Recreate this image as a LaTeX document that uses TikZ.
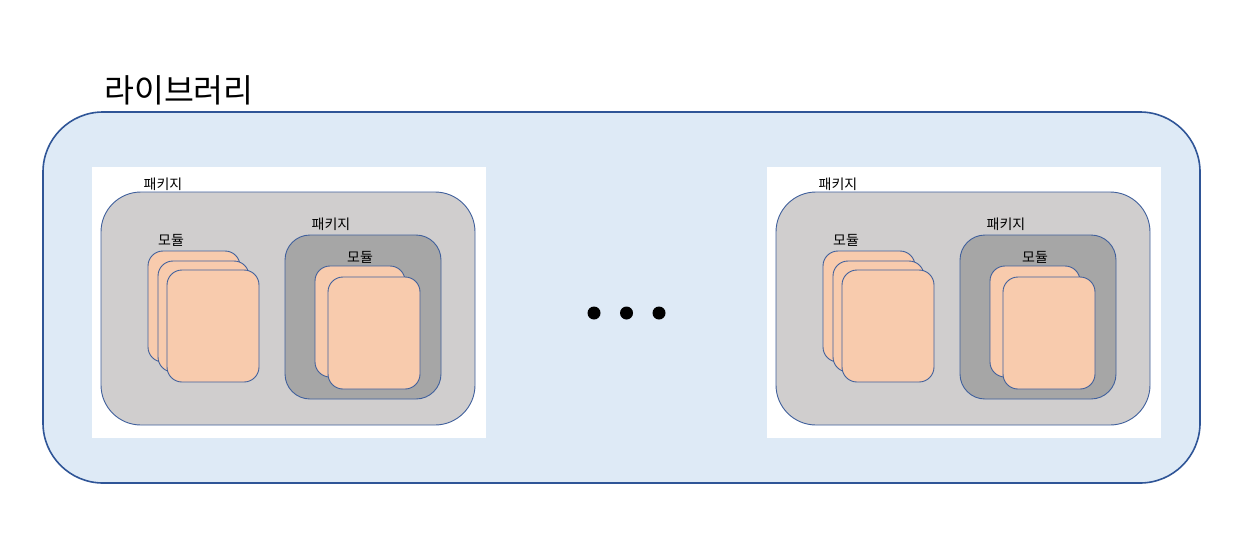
\documentclass[tikz,border=0pt]{standalone}
\usepackage{fontspec}
\newfontfamily\kr{Noto Sans CJK KR}
\usetikzlibrary{shapes}
\definecolor{libfill}{HTML}{DEEAF6}
\definecolor{libline}{HTML}{2F5597}
\definecolor{pkgfill}{HTML}{D0CECE}
\definecolor{subfill}{HTML}{A6A6A6}
\definecolor{modfill}{HTML}{F8CBAD}
\definecolor{boxline}{HTML}{40609C}

\begin{document}
\begin{tikzpicture}
[x=1pt,y=-1pt]
\tikzstyle{every node}=[inner sep=0,outer sep=0]
\tikzstyle{lib}=[draw=libline,line width=1.6pt,fill=libfill,rounded corners=60pt]
\tikzstyle{paper}=[fill=white]
\tikzstyle{pkg}=[draw=boxline,line width=0.9pt,fill=pkgfill,rounded corners=40pt]
\tikzstyle{subpkg}=[draw=boxline,line width=0.9pt,fill=subfill,rounded corners=25pt]
\tikzstyle{mod}=[draw=boxline,line width=0.9pt,fill=modfill,rounded corners=15pt]
\tikzstyle{txt}=[font=\kr\fontsize{14}{16}\selectfont]
\tikzstyle{dot}=[circle,fill=black,minimum size=13pt]
\useasboundingbox (0,0) rectangle (1248,552);
\node[lib,minimum width=1157pt,minimum height=371pt] (lib) at (621.5,297.5) {};
\node[font=\kr\fontsize{32.5}{36}\selectfont] (libname) at (179,90) {라이브러리};
% left package
\node[paper,minimum width=394pt,minimum height=271pt] (paperA) at (289,302.5) {};
\node[pkg,minimum width=374pt,minimum height=233pt] (pkgA) at (288,308.5) {};
\node[txt] (pkgnameA) at (163,184) {패키지};
\node[txt] (modnameA) at (171,240) {모듈};
\node[mod,minimum width=92pt,minimum height=111pt] (modA1) at (194,306.5) {};
\node[mod,minimum width=91pt,minimum height=111pt] (modA2) at (203.5,316.5) {};
\node[mod,minimum width=92pt,minimum height=112pt] (modA3) at (213,326) {};
\node[subpkg,minimum width=156pt,minimum height=164pt] (subA) at (363,317) {};
\node[txt] (subnameA) at (331,224) {패키지};
\node[txt] (submodnameA) at (360,257) {모듈};
\node[mod,minimum width=90pt,minimum height=111pt] (submodA1) at (360,321.5) {};
\node[mod,minimum width=92pt,minimum height=112pt] (submodA2) at (374,333) {};
% dots
\node[dot] (dot1) at (594,313) {};
\node[dot] (dot2) at (626.5,313) {};
\node[dot] (dot3) at (659,313) {};
% right package
\node[paper,minimum width=394pt,minimum height=271pt] (paperB) at (964,302.5) {};
\node[pkg,minimum width=374pt,minimum height=233pt] (pkgB) at (963,308.5) {};
\node[txt] (pkgnameB) at (838,184) {패키지};
\node[txt] (modnameB) at (846,240) {모듈};
\node[mod,minimum width=92pt,minimum height=111pt] (modB1) at (869,306.5) {};
\node[mod,minimum width=91pt,minimum height=111pt] (modB2) at (878.5,316.5) {};
\node[mod,minimum width=92pt,minimum height=112pt] (modB3) at (888,326) {};
\node[subpkg,minimum width=156pt,minimum height=164pt] (subB) at (1038,317) {};
\node[txt] (subnameB) at (1006,224) {패키지};
\node[txt] (submodnameB) at (1035,257) {모듈};
\node[mod,minimum width=90pt,minimum height=111pt] (submodB1) at (1035,321.5) {};
\node[mod,minimum width=92pt,minimum height=112pt] (submodB2) at (1049,333) {};
\end{tikzpicture}
\end{document}
